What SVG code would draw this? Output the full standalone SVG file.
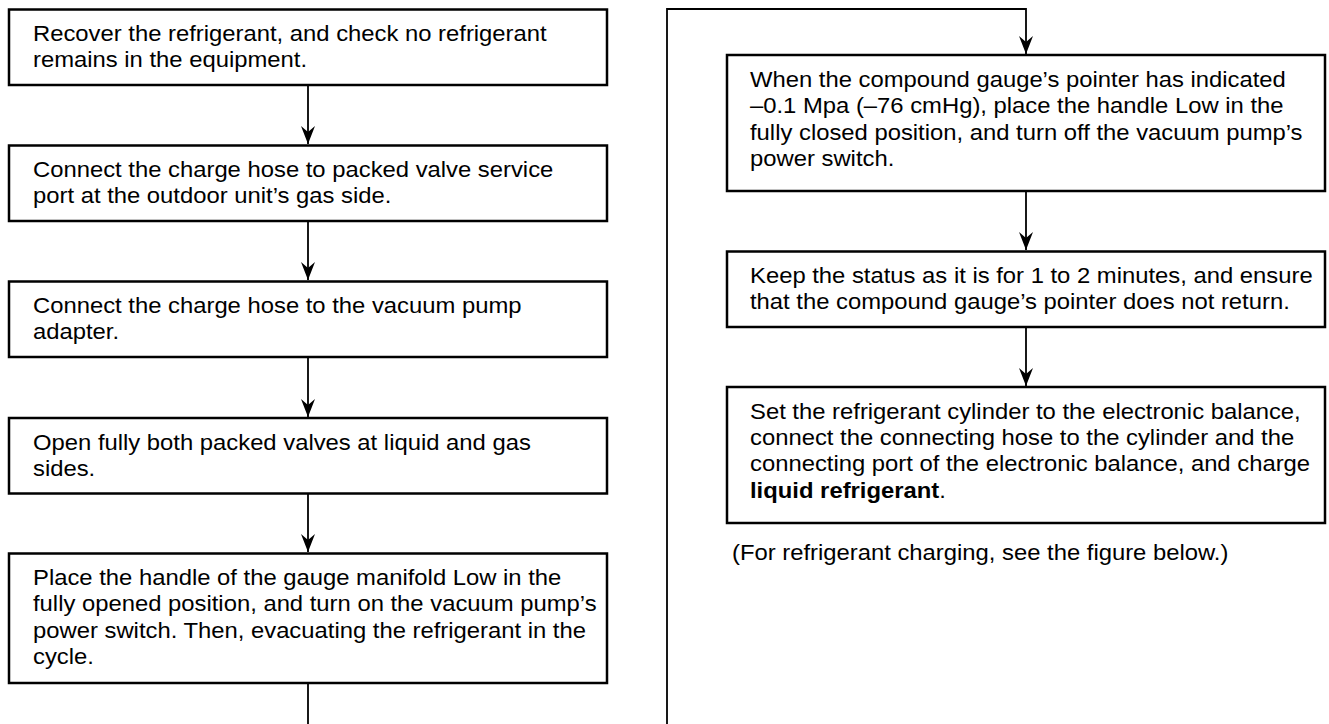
<svg xmlns="http://www.w3.org/2000/svg" width="1329" height="724" viewBox="0 0 1329 724">
<style>
.box{fill:#fff;stroke:#000;stroke-width:2.5}
.t{font-family:"Liberation Sans",Arial,Helvetica,sans-serif;font-size:22px;fill:#000}
.b{font-weight:bold}
.c{fill:none;stroke:#000;stroke-width:1.8}
</style>
<defs>
<marker id="arr" markerUnits="userSpaceOnUse" markerWidth="20" markerHeight="16" viewBox="-19 -8 20 16" refX="0" refY="0" orient="auto">
<path d="M0,0 L-18,-7 L-12,0 L-18,7 Z" fill="#000"/>
</marker>
</defs>
<rect width="1329" height="724" fill="#fff"/>
<g id="connectors">
<path class="c" d="M308,85 V144" marker-end="url(#arr)"/>
<path class="c" d="M308,221 V280" marker-end="url(#arr)"/>
<path class="c" d="M308,357 V417" marker-end="url(#arr)"/>
<path class="c" d="M308,493 V552" marker-end="url(#arr)"/>
<path class="c" d="M308,683 V724"/>
<path class="c" d="M667,724 V9 H1026 V54" marker-end="url(#arr)"/>
<path class="c" d="M1026,191 V250" marker-end="url(#arr)"/>
<path class="c" d="M1026,327 V386" marker-end="url(#arr)"/>
</g>
<g id="n1">
<rect class="box" x="9" y="9.5" width="598" height="75.5"/>
<text class="t" transform="translate(33,0) scale(1.083,1)"><tspan x="0" y="41.5">Recover the refrigerant, and check no refrigerant</tspan><tspan x="0" y="67.5">remains in the equipment.</tspan></text>
</g>
<g id="n2">
<rect class="box" x="9" y="145.5" width="598" height="75.5"/>
<text class="t" transform="translate(33,0) scale(1.083,1)"><tspan x="0" y="177.5">Connect the charge hose to packed valve service</tspan><tspan x="0" y="203.5">port at the outdoor unit’s gas side.</tspan></text>
</g>
<g id="n3">
<rect class="box" x="9" y="281.5" width="598" height="75.5"/>
<text class="t" transform="translate(33,0) scale(1.083,1)"><tspan x="0" y="313.5">Connect the charge hose to the vacuum pump</tspan><tspan x="0" y="339.5">adapter.</tspan></text>
</g>
<g id="n4">
<rect class="box" x="9" y="418" width="598" height="75.5"/>
<text class="t" transform="translate(33,0) scale(1.083,1)"><tspan x="0" y="450">Open fully both packed valves at liquid and gas</tspan><tspan x="0" y="476">sides.</tspan></text>
</g>
<g id="n5">
<rect class="box" x="9" y="553.5" width="598" height="129.5"/>
<text class="t" transform="translate(33,0) scale(1.083,1)"><tspan x="0" y="585">Place the handle of the gauge manifold Low in the</tspan><tspan x="0" y="611.5">fully opened position, and turn on the vacuum pump’s</tspan><tspan x="0" y="638">power switch. Then, evacuating the refrigerant in the</tspan><tspan x="0" y="664.5">cycle.</tspan></text>
</g>
<g id="n6">
<rect class="box" x="727" y="55" width="598" height="136"/>
<text class="t" transform="translate(750,0) scale(1.083,1)"><tspan x="0" y="87">When the compound gauge’s pointer has indicated</tspan><tspan x="0" y="113.5">–0.1 Mpa (–76 cmHg), place the handle Low in the</tspan><tspan x="0" y="140">fully closed position, and turn off the vacuum pump’s</tspan><tspan x="0" y="166.5">power switch.</tspan></text>
</g>
<g id="n7">
<rect class="box" x="727" y="251.5" width="598" height="75.5"/>
<text class="t" transform="translate(750,0) scale(1.083,1)"><tspan x="0" y="283.5">Keep the status as it is for 1 to 2 minutes, and ensure</tspan><tspan x="0" y="309.5">that the compound gauge’s pointer does not return.</tspan></text>
</g>
<g id="n8">
<rect class="box" x="727" y="387" width="598" height="136"/>
<text class="t" transform="translate(750,0) scale(1.083,1)"><tspan x="0" y="419">Set the refrigerant cylinder to the electronic balance,</tspan><tspan x="0" y="445">connect the connecting hose to the cylinder and the</tspan><tspan x="0" y="471">connecting port of the electronic balance, and charge</tspan><tspan x="0" y="498" class="b">liquid refrigerant</tspan><tspan>.</tspan></text>
</g>
<g id="caption">
<text class="t" transform="translate(732,0) scale(1.083,1)"><tspan x="0" y="560">(For refrigerant charging, see the figure below.)</tspan></text>
</g>
</svg>
